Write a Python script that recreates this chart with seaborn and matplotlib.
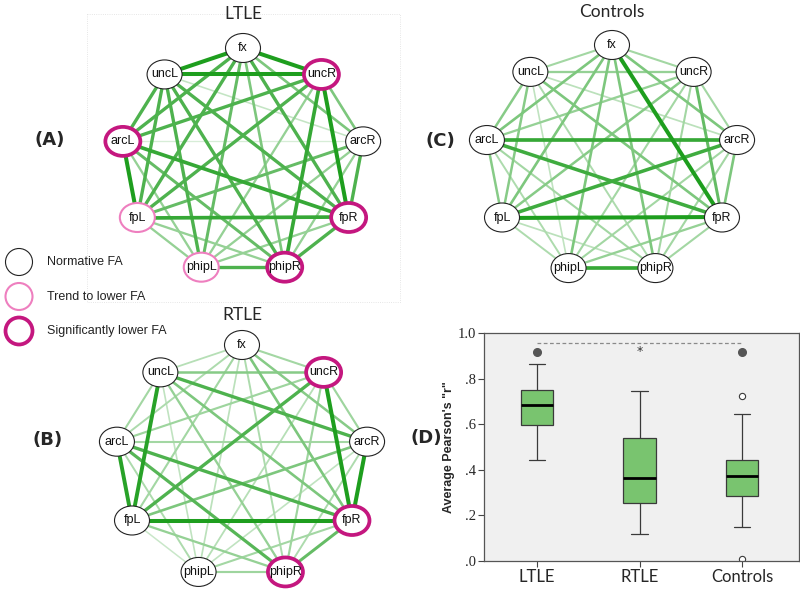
import numpy as np
import pandas as pd
import matplotlib
matplotlib.use('Agg')
import matplotlib.pyplot as plt
from matplotlib.patches import Ellipse, Rectangle
from matplotlib.colors import to_rgb
import seaborn as sns

# ---- network data ----
nodes = ['fx', 'uncR', 'arcR', 'fpR', 'phipR', 'phipL', 'fpL', 'arcL', 'uncL']

# connection strength, 0 (faint) .. 4 (strongest)
ltle_edges = [
    ('fx', 'uncR', 4), ('fx', 'arcR', 2), ('fx', 'fpR', 3), ('fx', 'phipR', 2), ('fx', 'phipL', 2.5),
    ('fx', 'fpL', 3), ('fx', 'arcL', 3), ('fx', 'uncL', 4),
    ('uncR', 'arcR', 2), ('uncR', 'fpR', 4), ('uncR', 'phipR', 3.5), ('uncR', 'phipL', 1.5),
    ('uncR', 'fpL', 3), ('uncR', 'arcL', 3), ('uncR', 'uncL', 4),
    ('arcR', 'fpR', 3), ('arcR', 'phipR', 1.5), ('arcR', 'phipL', 1.5), ('arcR', 'fpL', 2.5),
    ('arcR', 'arcL', 0.1), ('arcR', 'uncL', 0.5),
    ('fpR', 'phipR', 3), ('fpR', 'phipL', 1.5), ('fpR', 'fpL', 3.5), ('fpR', 'arcL', 3.5), ('fpR', 'uncL', 3),
    ('phipR', 'phipL', 3), ('phipR', 'fpL', 1.5), ('phipR', 'arcL', 2.5), ('phipR', 'uncL', 3),
    ('phipL', 'fpL', 1.5), ('phipL', 'arcL', 1.5), ('phipL', 'uncL', 3),
    ('fpL', 'arcL', 4), ('fpL', 'uncL', 3),
    ('arcL', 'uncL', 3),
]
ctrl_edges = [
    ('fx', 'uncR', 1.2), ('fx', 'arcR', 2), ('fx', 'fpR', 4), ('fx', 'phipR', 2), ('fx', 'phipL', 2),
    ('fx', 'fpL', 2), ('fx', 'arcL', 2), ('fx', 'uncL', 1.2),
    ('uncR', 'arcR', 1.2), ('uncR', 'fpR', 2.5), ('uncR', 'phipR', 1.2), ('uncR', 'phipL', 1.2),
    ('uncR', 'fpL', 1.8), ('uncR', 'arcL', 1.5), ('uncR', 'uncL', 1.5),
    ('arcR', 'fpR', 2), ('arcR', 'phipR', 1.2), ('arcR', 'phipL', 1.2), ('arcR', 'fpL', 3.3),
    ('arcR', 'arcL', 3.5), ('arcR', 'uncL', 0.7),
    ('fpR', 'phipR', 1.2), ('fpR', 'phipL', 1.5), ('fpR', 'fpL', 4), ('fpR', 'arcL', 3.3), ('fpR', 'uncL', 2),
    ('phipR', 'phipL', 3.5), ('phipR', 'fpL', 0.7), ('phipR', 'arcL', 1.2), ('phipR', 'uncL', 1),
    ('phipL', 'fpL', 1), ('phipL', 'arcL', 1), ('phipL', 'uncL', 0.6),
    ('fpL', 'arcL', 1.8), ('fpL', 'uncL', 1.8),
    ('arcL', 'uncL', 1.8),
]
rtle_edges = [
    ('fx', 'uncR', 1.2), ('fx', 'arcR', 1.8), ('fx', 'fpR', 2), ('fx', 'phipR', 1), ('fx', 'phipL', 0.7),
    ('fx', 'fpL', 1.2), ('fx', 'arcL', 1), ('fx', 'uncL', 0.8),
    ('uncR', 'arcR', 1.3), ('uncR', 'fpR', 4), ('uncR', 'phipR', 1.3), ('uncR', 'phipL', 0.8),
    ('uncR', 'fpL', 3), ('uncR', 'arcL', 1.3), ('uncR', 'uncL', 1.8),
    ('arcR', 'fpR', 4), ('arcR', 'phipR', 1), ('arcR', 'phipL', 0.6), ('arcR', 'fpL', 2),
    ('arcR', 'arcL', 1.2), ('arcR', 'uncL', 3),
    ('fpR', 'phipR', 2.5), ('fpR', 'phipL', 1.2), ('fpR', 'fpL', 4), ('fpR', 'arcL', 3), ('fpR', 'uncL', 2),
    ('phipR', 'phipL', 1.3), ('phipR', 'fpL', 1.5), ('phipR', 'arcL', 2.8), ('phipR', 'uncL', 1.5),
    ('phipL', 'fpL', 0.4), ('phipL', 'arcL', 1), ('phipL', 'uncL', 0.6),
    ('fpL', 'arcL', 3.8), ('fpL', 'uncL', 3.8),
    ('arcL', 'uncL', 1.2),
]

# 1 = trend to lower FA, 2 = significantly lower FA
ltle_status = {'uncR': 2, 'arcL': 2, 'fpR': 2, 'phipR': 2, 'fpL': 1, 'phipL': 1}
rtle_status = {'uncR': 2, 'fpR': 2, 'phipR': 2}
ctrl_status = {}

legend_labels = ['Normative FA', 'Trend to lower FA', 'Significantly lower FA']

# ---- boxplot data ----
groups = ['LTLE', 'RTLE', 'Controls']
ltle_r = [0.445, 0.597, 0.685, 0.752, 0.862]
rtle_r = [0.117, 0.255, 0.365, 0.540, 0.745]
ctrl_r = [0.010, 0.147, 0.285, 0.375, 0.375, 0.375, 0.443, 0.643, 0.723]
sig_y = 0.915

ring_color = ['#222222', '#ee7fbf', '#c4177f']
ring_lw = [0.8, 1.5, 2.7]
light = np.array(to_rgb('#dcefdc'))
dark = np.array(to_rgb('#1e9e1e'))


def draw_network(ax, center, radii, edges, status, title, title_y):
    cx, cy = center
    rx, ry = radii
    ang = np.deg2rad(np.arange(len(nodes)) * 40)
    pos = {n: (cx + rx * np.sin(a), cy - ry * np.cos(a)) for n, a in zip(nodes, ang)}
    for a, b, w in sorted(edges, key=lambda e: e[2]):
        t = w / 4.0
        col = light * (1 - t) + dark * t
        ax.plot([pos[a][0], pos[b][0]], [pos[a][1], pos[b][1]], color=col,
                lw=0.9 + 0.5 * w, solid_capstyle='butt', zorder=1 + w)
    for n in nodes:
        s = status.get(n, 0)
        ax.add_patch(Ellipse(pos[n], 35, 29, facecolor='white', edgecolor=ring_color[s],
                             lw=ring_lw[s], zorder=10))
        ax.text(pos[n][0], pos[n][1], n, ha='center', va='center', fontsize=9,
                family='Liberation Sans', color='#111111', zorder=11)
    ax.text(cx, title_y, title, ha='center', va='center', fontsize=12.5, family='Lato')


sns.set_style('ticks')
fig = plt.figure(figsize=(8, 5.94), dpi=100)

# canvas in pixel coordinates for the networks
ax = fig.add_axes([0, 0, 1, 1])
ax.set_xlim(0, 800)
ax.set_ylim(594, 0)
ax.axis('off')

ax.add_patch(Rectangle((87, 14), 313, 288, fill=False, edgecolor='#dedede', lw=0.6, ls=':', zorder=0))

draw_network(ax, (243, 161), (122, 113), ltle_edges, ltle_status, 'LTLE', 14)
draw_network(ax, (612, 160), (127, 115), ctrl_edges, ctrl_status, 'Controls', 12)
draw_network(ax, (242, 462), (127, 117), rtle_edges, rtle_status, 'RTLE', 315)

for i, lab in enumerate(legend_labels):
    y = 262 + i * 34.5
    ax.add_patch(Ellipse((19, y), 27, 27, facecolor='white', edgecolor=ring_color[i], lw=ring_lw[i], zorder=10))
    ax.text(47, y, lab, ha='left', va='center', fontsize=9, family='Liberation Sans', color='#222222')

for lab, x, y in [('(A)', 50, 140), ('(B)', 48, 440), ('(C)', 440, 141), ('(D)', 426, 438)]:
    ax.text(x, y, lab, ha='center', va='center', fontsize=13, fontweight='bold', family='DejaVu Sans')

# ---- boxplot panel ----
df = pd.DataFrame({
    'group': ['LTLE'] * len(ltle_r) + ['RTLE'] * len(rtle_r) + ['Controls'] * len(ctrl_r),
    'r': ltle_r + rtle_r + ctrl_r,
})
bx = fig.add_axes([484 / 800, 33 / 594, 315 / 800, 228 / 594])
sns.boxplot(data=df, x='group', y='r', order=groups, color='#79c46f', saturation=1, width=0.32,
            linecolor='#3a3a3a', linewidth=0.9,
            medianprops=dict(color='black', linewidth=2),
            flierprops=dict(marker='o', markerfacecolor='white', markeredgecolor='#3a3a3a',
                            markersize=4.5, markeredgewidth=0.8),
            ax=bx)
bx.set_facecolor('#f0f0f0')
bx.set_xlim(-0.517, 2.556)
bx.set_ylim(0, 1.0)
bx.set_yticks([0, 0.2, 0.4, 0.6, 0.8, 1.0])
bx.set_yticklabels(['.0', '.2', '.4', '.6', '.8', '1.0'], family='Liberation Serif', fontsize=10.5)
bx.set_xticks(range(len(groups)))
bx.set_xticklabels(groups, family='Lato', fontsize=12)
bx.set_xlabel('')
bx.set_ylabel('Average Pearson\'s "r"', fontsize=9, fontweight='bold', family='Liberation Sans', labelpad=2)
bx.tick_params(length=4, width=0.8, color='#444444', pad=2)
for sp in bx.spines.values():
    sp.set_visible(True)
    sp.set_color('#555555')
    sp.set_linewidth(0.9)

bx.plot([0, 2], [sig_y + 0.04, sig_y + 0.04], ls=(0, (3, 2)), color='#8a8a8a', lw=0.9)
bx.plot([0, 2], [sig_y, sig_y], 'o', color='#555555', ms=5.5, ls='none')
bx.text(1, sig_y + 0.005, '*', ha='center', va='center', fontsize=9, color='#333333')

fig.savefig('out.png', dpi=100)
